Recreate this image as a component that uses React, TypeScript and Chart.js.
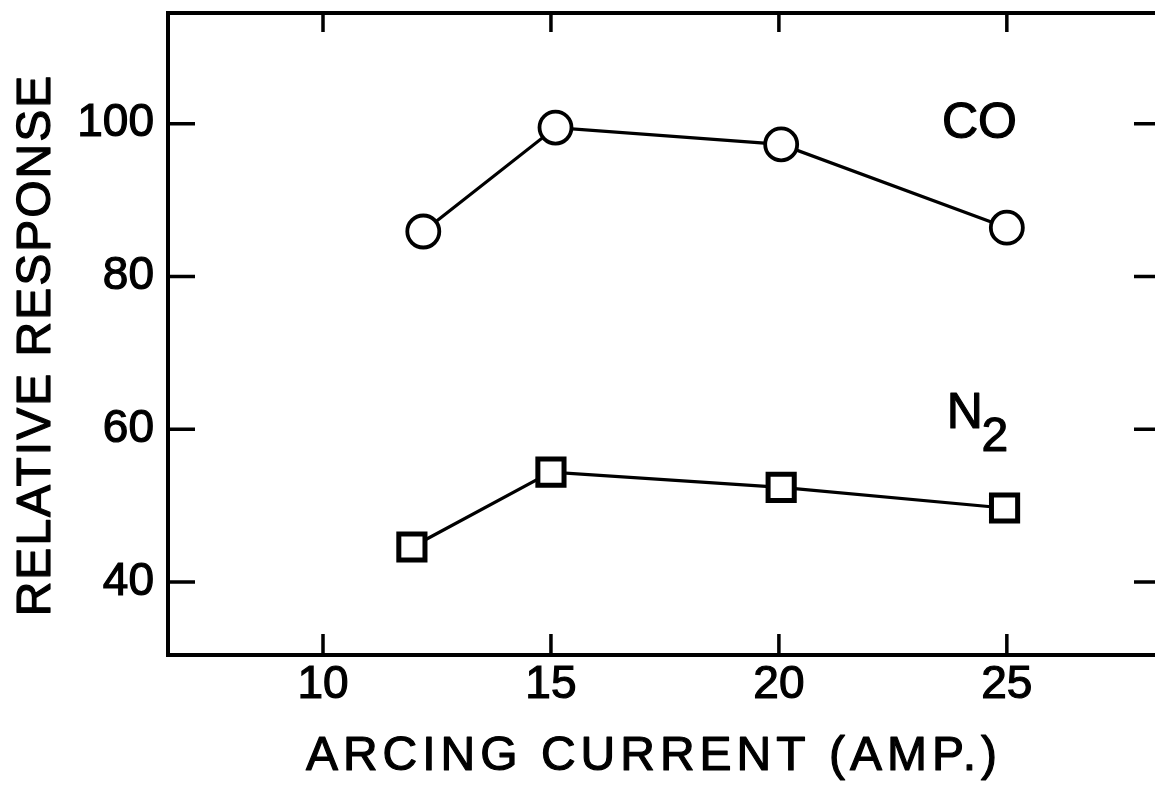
import React, { useEffect, useRef } from "react";
import { Chart, registerables } from "chart.js";

Chart.register(...registerables);

// ---- data ----
const coCurrent = [12.2, 15.1, 20.05, 25.0];
const coResponse = [85.9, 99.5, 97.3, 86.4];
const n2Current = [11.95, 15.0, 20.05, 24.95];
const n2Response = [44.6, 54.4, 52.4, 49.7];
const xTicks = [10, 15, 20, 25];
const yTicks = [40, 60, 80, 100];
const xTitle = "ARCING CURRENT (AMP.)";
const yTitle = "RELATIVE RESPONSE";
const coLabel = "CO";
const n2Main = "N";
const n2Sub = "2";
const coLabelPos = [24.4, 100];
const n2LabelPos = [24.08, 62];

const FONT = "'Liberation Sans', Arial, sans-serif";

function heavyText(ctx: CanvasRenderingContext2D, s: string, x: number, y: number) {
  ctx.fillText(s, x, y);
  ctx.strokeText(s, x, y);
}

const framePlugin = {
  id: "frame",
  afterDraw(chart: any) {
    const { ctx, chartArea, scales } = chart;
    const xs = scales.x;
    const ys = scales.y;
    const { left, right, top, bottom } = chartArea;
    ctx.save();
    ctx.strokeStyle = "#000";
    ctx.lineCap = "square";
    // frame (right side is outside the picture)
    ctx.lineWidth = 4;
    ctx.beginPath();
    ctx.moveTo(right + 5, top);
    ctx.lineTo(left, top);
    ctx.lineTo(left, bottom);
    ctx.lineTo(right + 5, bottom);
    ctx.stroke();
    // inward ticks
    ctx.lineWidth = 3.5;
    ctx.lineCap = "butt";
    const tl = 21;
    xTicks.forEach((v) => {
      const px = xs.getPixelForValue(v);
      ctx.beginPath();
      ctx.moveTo(px, bottom);
      ctx.lineTo(px, bottom - tl);
      ctx.moveTo(px, top);
      ctx.lineTo(px, top + tl - 2);
      ctx.stroke();
    });
    yTicks.forEach((v) => {
      const py = ys.getPixelForValue(v);
      ctx.beginPath();
      ctx.moveTo(left, py);
      ctx.lineTo(left + tl + 6, py);
      ctx.moveTo(right, py);
      ctx.lineTo(right - tl, py);
      ctx.stroke();
    });
    // titles
    ctx.fillStyle = "#000";
    ctx.strokeStyle = "#000";
    ctx.lineWidth = 1.2;
    ctx.lineJoin = "round";
    ctx.textAlign = "center";
    ctx.textBaseline = "alphabetic";
    ctx.font = `48px ${FONT}`;
    (ctx as any).letterSpacing = "5px";
    heavyText(ctx, xTitle, 654, 770);
    ctx.save();
    ctx.translate(50, 345);
    ctx.rotate(-Math.PI / 2);
    (ctx as any).letterSpacing = "2px";
    heavyText(ctx, yTitle, 0, 0);
    ctx.restore();
    (ctx as any).letterSpacing = "0px";
    // series labels
    ctx.font = `50px ${FONT}`;
    ctx.textBaseline = "middle";
    heavyText(ctx, coLabel, xs.getPixelForValue(coLabelPos[0]), ys.getPixelForValue(coLabelPos[1]));
    const nx = xs.getPixelForValue(n2LabelPos[0]);
    const ny = ys.getPixelForValue(n2LabelPos[1]);
    heavyText(ctx, n2Main, nx, ny);
    ctx.font = `48px ${FONT}`;
    heavyText(ctx, n2Sub, nx + 30, ny + 24);
    ctx.restore();
  },
};

export default function App() {
  const ref = useRef<HTMLCanvasElement | null>(null);
  useEffect(() => {
    if (!ref.current) return;
    const chart = new Chart(ref.current, {
      type: "line",
      data: {
        datasets: [
          {
            label: coLabel,
            data: coCurrent.map((x, i) => ({ x, y: coResponse[i] })),
            borderColor: "#000",
            borderWidth: 3.2,
            backgroundColor: "#fff",
            pointStyle: "circle",
            pointRadius: 16,
            pointBorderWidth: 3.8,
            pointBackgroundColor: "#fff",
            pointBorderColor: "#000",
            tension: 0,
          },
          {
            label: n2Main + n2Sub,
            data: n2Current.map((x, i) => ({ x, y: n2Response[i] })),
            borderColor: "#000",
            borderWidth: 3.2,
            backgroundColor: "#fff",
            pointStyle: "rect",
            pointRadius: 18.5,
            pointBorderWidth: 5,
            pointBackgroundColor: "#fff",
            pointBorderColor: "#000",
            tension: 0,
          },
        ],
      },
      options: {
        animation: false,
        responsive: false,
        events: [],
        layout: { autoPadding: false, padding: { left: 0, right: 0, top: 13, bottom: 0 } },
        plugins: { legend: { display: false }, tooltip: { enabled: false } },
        scales: {
          x: {
            type: "linear",
            min: 6.6,
            max: 28.25,
            afterBuildTicks: (s: any) => {
              s.ticks = xTicks.map((v) => ({ value: v }));
            },
            afterFit: (s: any) => {
              s.height = 140;
              s.paddingLeft = 0;
              s.paddingRight = 0;
            },
            grid: { display: false, drawTicks: false },
            border: { display: false },
            ticks: {
              color: "#000",
              padding: 3,
              maxRotation: 0,
              autoSkip: false,
              textStrokeColor: "#000",
              textStrokeWidth: 1.2,
              font: { family: FONT, size: 46 },
            },
          },
          y: {
            type: "linear",
            min: 30.46,
            max: 114.5,
            afterBuildTicks: (s: any) => {
              s.ticks = yTicks.map((v) => ({ value: v }));
            },
            afterFit: (s: any) => {
              s.width = 168;
              s.paddingTop = 0;
              s.paddingBottom = 0;
            },
            grid: { display: false, drawTicks: false },
            border: { display: false },
            ticks: {
              color: "#000",
              padding: 14,
              autoSkip: false,
              textStrokeColor: "#000",
              textStrokeWidth: 1.2,
              font: { family: FONT, size: 46 },
            },
          },
        },
      },
      plugins: [framePlugin],
    });
    return () => chart.destroy();
  }, []);
  return (
    <div style={{ position: "absolute", left: 0, top: 0, width: 1155, height: 795, background: "#fff" }}>
      <canvas ref={ref} width={1155} height={795} style={{ display: "block" }} />
    </div>
  );
}
